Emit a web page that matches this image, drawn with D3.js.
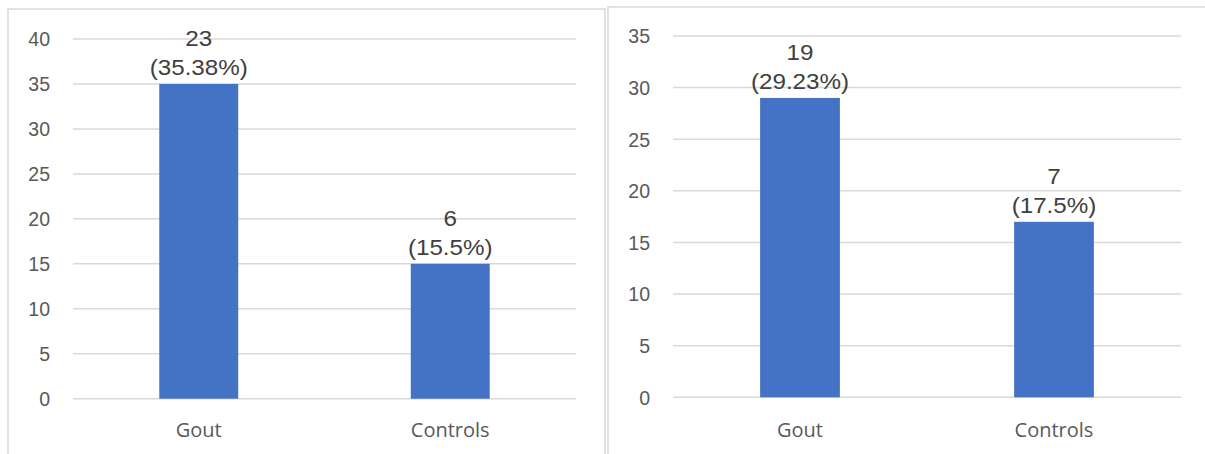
<!DOCTYPE html>
<html><head><meta charset="utf-8">
<script src="https://cdn.jsdelivr.net/npm/d3@7"></script>
<style>body{margin:0;background:#fff}svg{display:block}</style>
</head><body>
<svg id="c" width="1205" height="454"></svg>
<script>
const categories = ["Gout", "Controls"];
const leftValues = [35, 15];
const leftCounts = ["23", "6"];
const leftPercents = ["(35.38%)", "(15.5%)"];
const leftTicks = [0, 5, 10, 15, 20, 25, 30, 35, 40];
const rightValues = [29, 17];
const rightCounts = ["19", "7"];
const rightPercents = ["(29.23%)", "(17.5%)"];
const rightTicks = [0, 5, 10, 15, 20, 25, 30, 35];

const svg = d3.select("#c");

function panel(cfg) {
  const g = svg.append("g");
  g.append("rect").attr("x", cfg.box[0]).attr("y", cfg.box[1])
    .attr("width", cfg.box[2]).attr("height", cfg.box[3])
    .attr("fill", "#fff").attr("stroke", "#d9d9d9").attr("stroke-width", 1.5);
  const x = d3.scaleBand().domain(categories).range([cfg.x0, cfg.x1])
    .paddingInner(0.686).paddingOuter(0.343);
  const y = d3.scaleLinear().domain([0, d3.max(cfg.ticks)]).range([cfg.y0, cfg.y1]);
  g.append("g").selectAll("line").data(cfg.ticks).join("line")
    .attr("x1", cfg.x0).attr("x2", cfg.x1)
    .attr("y1", d => y(d)).attr("y2", d => y(d))
    .attr("stroke", "#d9d9d9").attr("stroke-width", 1.5);
  const ya = d3.axisLeft(y).tickValues(cfg.ticks).tickSize(0).tickPadding(0);
  const yg = g.append("g").attr("transform", `translate(${cfg.labelX},0)`).call(ya);
  yg.select(".domain").remove();
  yg.selectAll("text").attr("font-family", "Liberation Sans, Arial, sans-serif")
    .attr("font-size", 19.5).attr("fill", "#595959").attr("dy", "0.35em");
  g.append("g").selectAll("rect").data(cfg.values).join("rect")
    .attr("x", (d, i) => x(categories[i])).attr("width", x.bandwidth())
    .attr("y", d => y(d)).attr("height", d => y(0) - y(d))
    .attr("fill", "#4472c4");
  const lab = g.append("g").attr("font-family", "Liberation Sans, Arial, sans-serif")
    .attr("font-size", 22).attr("fill", "#404040").attr("text-anchor", "middle");
  const cx = i => x(categories[i]) + x.bandwidth() / 2;
  lab.selectAll("text.c").data(cfg.values).join("text").attr("class", "c")
    .attr("transform", (d, i) => `translate(${cx(i)},${y(d) - 38}) scale(1.1,1)`)
    .text((d, i) => cfg.counts[i]);
  lab.selectAll("text.p").data(cfg.values).join("text").attr("class", "p")
    .attr("transform", (d, i) => `translate(${cx(i)},${y(d) - 9}) scale(1.1,1)`)
    .text((d, i) => cfg.percents[i]);
  const xa = d3.axisBottom(x).tickSize(0).tickPadding(0);
  const xg = g.append("g").attr("transform", `translate(0,${cfg.catY})`).call(xa);
  xg.select(".domain").remove();
  xg.selectAll("text").attr("font-family", "Open Sans, Noto Sans, sans-serif")
    .attr("font-size", 20).attr("fill", "#595959").attr("dy", 0);
}

panel({box: [8, 9, 597, 460], x0: 73, x1: 576, y0: 398.7, y1: 39,
  labelX: 50, catY: 437, ticks: leftTicks, values: leftValues,
  counts: leftCounts, percents: leftPercents});
panel({box: [608, 7, 620, 460], x0: 673, x1: 1181, y0: 397.3, y1: 36,
  labelX: 650, catY: 436.5, ticks: rightTicks, values: rightValues,
  counts: rightCounts, percents: rightPercents});
</script>
</body></html>
